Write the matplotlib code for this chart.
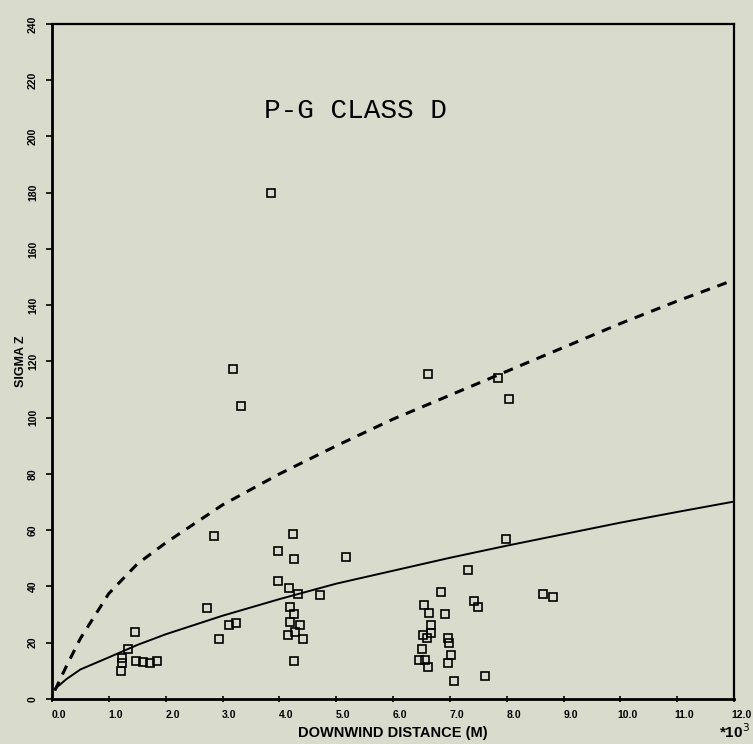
import matplotlib
matplotlib.use("Agg")
import matplotlib.pyplot as plt
import matplotlib.transforms as mtransforms
import numpy as np

# observed sigma z points (x in thousands of metres)
obs_x = [1.46, 1.34, 1.24, 1.24, 1.22, 1.48, 1.61, 1.73, 1.85,
         2.72, 2.93, 3.12, 3.23, 2.85,
         3.85, 3.18, 3.33,
         3.98, 3.97, 4.24, 4.25, 5.17, 4.17, 4.33, 4.71, 4.18, 4.25,
         4.18, 4.37, 4.28, 4.15, 4.42, 4.25,
         7.98, 7.31, 6.85, 8.63, 8.82, 6.55, 6.63, 6.91, 7.43, 7.49,
         6.67, 6.53, 6.60, 6.67, 6.96, 6.99, 6.51, 6.45, 6.57, 6.61,
         7.02, 6.96, 7.08, 7.62,
         6.62, 7.85, 8.04]
obs_y = [23.8, 17.9, 14.5, 12.7, 10.1, 13.6, 13.3, 12.7, 13.6,
         32.5, 21.4, 26.3, 27.1, 58.0,
         179.8, 117.3, 104.3,
         52.7, 42.0, 58.6, 49.8, 50.4, 39.4, 37.2, 36.9, 32.6, 30.3,
         27.3, 26.4, 23.9, 22.8, 21.2, 13.5,
         56.9, 45.9, 38.2, 37.4, 36.2, 33.3, 30.7, 30.2, 34.7, 32.7,
         26.3, 22.8, 21.7, 23.4, 21.8, 19.9, 17.7, 13.9, 13.9, 11.3,
         15.6, 12.8, 6.4, 8.2,
         115.6, 114.1, 106.7]

# curves
curve_x = [0.05, 0.25, 0.5, 1.0, 1.5, 2.0, 3.0, 4.0, 5.0, 6.0, 7.0, 8.0, 9.0, 10.0, 11.0, 12.0]
solid_y = [3.5, 7.0, 10.5, 14.8, 19.2, 23.0, 29.6, 35.5, 41.0, 45.6, 50.2, 54.5, 58.6, 62.7, 66.5, 70.2]
dashed_y = [3.0, 11.5, 21.5, 37.5, 48.0, 55.5, 69.0, 80.0, 90.0, 99.5, 108.0, 116.5, 125.0, 133.5, 141.5, 149.0]

xticks = np.arange(0, 13, 1)
yticks = np.arange(0, 241, 20)

bg = "#d9dccd"
fig = plt.figure(figsize=(7.53, 7.44), dpi=100, facecolor=bg)
ax = fig.add_axes([0.069, 0.0605, 0.906, 0.9073], facecolor=bg)

ax.plot(curve_x, dashed_y, color="black", lw=2.2, ls=(0, (3.2, 2.6)))
ax.plot(curve_x, solid_y, color="black", lw=1.4)
ax.plot(obs_x, obs_y, ls="none", marker="s", ms=5.3, mfc="none", mec="black", mew=1.2)

ax.set_xlim(0, 12)
ax.set_ylim(0, 240)
ax.set_xticks(xticks)
ax.set_xticklabels([f"{v:.1f}" for v in xticks], fontsize=7.5, fontweight="bold",
                   family="Liberation Sans")
ax.set_yticks(yticks)
ax.set_yticklabels([str(v) for v in yticks], fontsize=7.5, fontweight="bold",
                   family="Liberation Sans", rotation=90, va="center")
ax.tick_params(axis="x", direction="inout", length=4, width=1.2, pad=6)
ax.tick_params(axis="y", direction="out", length=4, width=1.2, pad=6)
shift = mtransforms.ScaledTranslation(7 / 100, 0, fig.dpi_scale_trans)
for lab in ax.get_xticklabels():
    lab.set_transform(lab.get_transform() + shift)

for s in ["left", "bottom"]:
    ax.spines[s].set_linewidth(2.0)
for s in ["right", "top"]:
    ax.spines[s].set_linewidth(1.6)

ax.set_xlabel("DOWNWIND DISTANCE (M)", fontsize=10.5, fontweight="bold",
              family="Liberation Sans", labelpad=4)
ax.set_ylabel("SIGMA Z", fontsize=9, fontweight="bold", family="Liberation Sans", labelpad=1)
fig.text(0.996, 0.004, "*10$^3$", fontsize=11, fontweight="bold",
         family="Liberation Sans", ha="right", va="bottom")

ax.text(3.73, 209, "P-G CLASS D", fontsize=20, family="Liberation Mono", va="center")

fig.savefig("out.png", dpi=100, facecolor=bg)
